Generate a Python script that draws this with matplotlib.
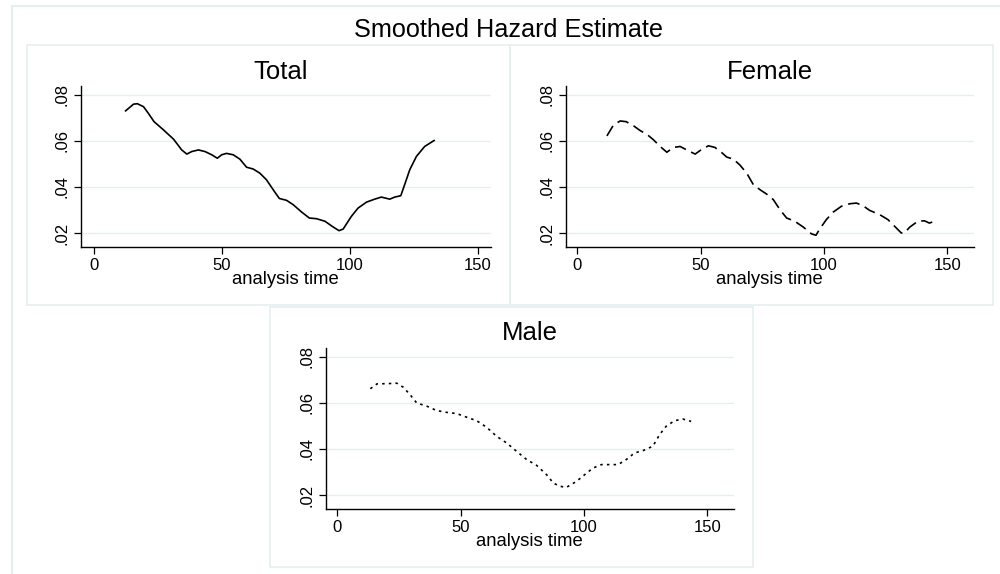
import matplotlib
matplotlib.use("Agg")
import matplotlib.pyplot as plt
from matplotlib.patches import Rectangle

plt.rcParams['font.family'] = ['Liberation Sans', 'DejaVu Sans']

# smoothed hazard estimates
total_t = [12.5, 15.6, 17.1, 19.5, 21.4, 23.6, 27.3, 31.2, 34.4, 36.4, 38.3, 40.9, 43.5,
           46.1, 48.3, 50.0, 51.9, 54.5, 57.1, 59.7, 62.3, 64.9, 67.5, 70.1, 72.5, 75.3,
           77.9, 81.2, 84.2, 87.0, 90.3, 93.5, 95.8, 97.4, 100.6, 103.2, 106.5, 109.7,
           112.3, 115.6, 117.5, 119.9, 121.4, 123.4, 126.0, 129.2, 132.9]
total_h = [0.0731, 0.0760, 0.0762, 0.0749, 0.0720, 0.0684, 0.0648, 0.0608, 0.0561, 0.0543,
           0.0554, 0.0561, 0.0554, 0.0540, 0.0525, 0.0540, 0.0546, 0.0540, 0.0521, 0.0486,
           0.0478, 0.0460, 0.0431, 0.0388, 0.0350, 0.0342, 0.0323, 0.0291, 0.0265, 0.0262,
           0.0251, 0.0226, 0.0210, 0.0217, 0.0272, 0.0308, 0.0334, 0.0347, 0.0356, 0.0347,
           0.0356, 0.0362, 0.0410, 0.0475, 0.0533, 0.0576, 0.0602]

female_t = [12.0, 14.7, 17.4, 19.8, 22.8, 25.5, 28.2, 30.9, 33.6, 36.3, 39.0, 41.7, 44.4,
            47.8, 50.5, 53.2, 55.8, 58.5, 60.6, 63.3, 65.9, 68.7, 71.4, 74.1, 76.8, 79.5,
            82.2, 84.9, 88.2, 91.6, 95.0, 96.8, 98.3, 101.0, 103.7, 107.1, 110.5, 113.2,
            115.8, 118.6, 122.6, 126.0, 128.7, 131.4, 132.7, 134.8, 138.1, 140.8, 142.8,
            144.9]
female_h = [0.0622, 0.0670, 0.0687, 0.0684, 0.0666, 0.0645, 0.0629, 0.0605, 0.0576, 0.0551,
            0.0572, 0.0576, 0.0561, 0.0543, 0.0564, 0.0579, 0.0572, 0.0550, 0.0530, 0.0521,
            0.0496, 0.0460, 0.0410, 0.0388, 0.0369, 0.0345, 0.0301, 0.0265, 0.0251, 0.0226,
            0.0196, 0.0190, 0.0217, 0.0258, 0.0290, 0.0316, 0.0327, 0.0330, 0.0319, 0.0298,
            0.0280, 0.0258, 0.0229, 0.0200, 0.0200, 0.0225, 0.0251, 0.0253, 0.0243, 0.0251]

male_t = [13.4, 16.1, 20.1, 24.1, 26.8, 29.5, 32.2, 36.3, 40.3, 44.4, 48.4, 52.5, 56.5,
          60.6, 64.6, 68.7, 72.7, 76.8, 80.8, 84.9, 87.6, 90.2, 92.9, 97.0, 100.3, 103.7,
          107.1, 110.5, 113.9, 117.2, 120.6, 124.0, 128.0, 130.7, 133.4, 136.8, 140.2, 143.5]
male_h = [0.0662, 0.0683, 0.0684, 0.0686, 0.0668, 0.0636, 0.0600, 0.0586, 0.0567, 0.0559,
          0.0554, 0.0538, 0.0523, 0.0494, 0.0455, 0.0426, 0.0390, 0.0354, 0.0329, 0.0288,
          0.0252, 0.0238, 0.0233, 0.0259, 0.0288, 0.0317, 0.0332, 0.0332, 0.0332, 0.0354,
          0.0383, 0.0393, 0.0412, 0.0462, 0.0499, 0.0523, 0.0530, 0.0520]

x_ticks = [0, 50, 100, 150]
y_ticks = [0.02, 0.04, 0.06, 0.08]
y_labels = ['.02', '.04', '.06', '.08']

W, H = 1000, 574
border = '#e6eff0'

fig = plt.figure(figsize=(10, 5.74), dpi=100)


def box(x0, y0, x1, y1):
    # pixel box, y measured from the top
    fig.patches.append(Rectangle((x0 / W, 1 - y1 / H), (x1 - x0) / W, (y1 - y0) / H,
                                 transform=fig.transFigure, fill=False,
                                 edgecolor=border, linewidth=1.2))


def panel(x0, x1, y0, y1, t, h, ls, title, xlim, tx, ty, lx, ly):
    ax = fig.add_axes([x0 / W, 1 - y1 / H, (x1 - x0) / W, (y1 - y0) / H])
    ax.plot(t, h, color='black', linestyle=ls, linewidth=1.2)
    ax.set_xlim(*xlim)
    ax.set_ylim(0.0139, 0.0839)
    ax.set_xticks(x_ticks)
    ax.set_yticks(y_ticks)
    ax.set_yticklabels(y_labels, rotation=90, va='center')
    ax.tick_params(labelsize=12, length=5, width=0.9, colors='black', pad=3)
    for s in ['top', 'right']:
        ax.spines[s].set_visible(False)
    for s in ['left', 'bottom']:
        ax.spines[s].set_linewidth(1.0)
    ax.grid(axis='y', color='#e6eff0', linewidth=1.0)
    ax.set_axisbelow(True)
    fig.text(tx / W, 1 - ty / H, title, ha='center', va='center', fontsize=18.5)
    fig.text(lx / W, 1 - ly / H, 'analysis time', ha='center', va='center', fontsize=13.3)
    return ax


# outer frame (runs off the right and bottom edges)
fig.patches.append(Rectangle((12 / W, -0.2), 1.2, 1 - 6 / H + 0.2,
                             transform=fig.transFigure, fill=False,
                             edgecolor=border, linewidth=1.5))
box(27, 45, 510, 305)
box(510, 45, 993, 305)
box(270, 307, 753, 567)

panel(81, 491, 86, 247, total_t, total_h, '-', 'Total', (-4.9, 155.1), 281, 72, 285, 280)
panel(566, 974, 86, 247, female_t, female_h, (0, (7, 3.5)), 'Female', (-4.6, 160.9),
      770, 72, 769, 280)
panel(326, 734, 348, 509, male_t, male_h, (0, (1.5, 2.5)), 'Male', (-4.6, 160.9),
      530, 333, 529, 541)

fig.text(509 / W, 1 - 30 / H, 'Smoothed Hazard Estimate', ha='center', va='center',
         fontsize=18.2)

fig.savefig('out.png', dpi=100)
